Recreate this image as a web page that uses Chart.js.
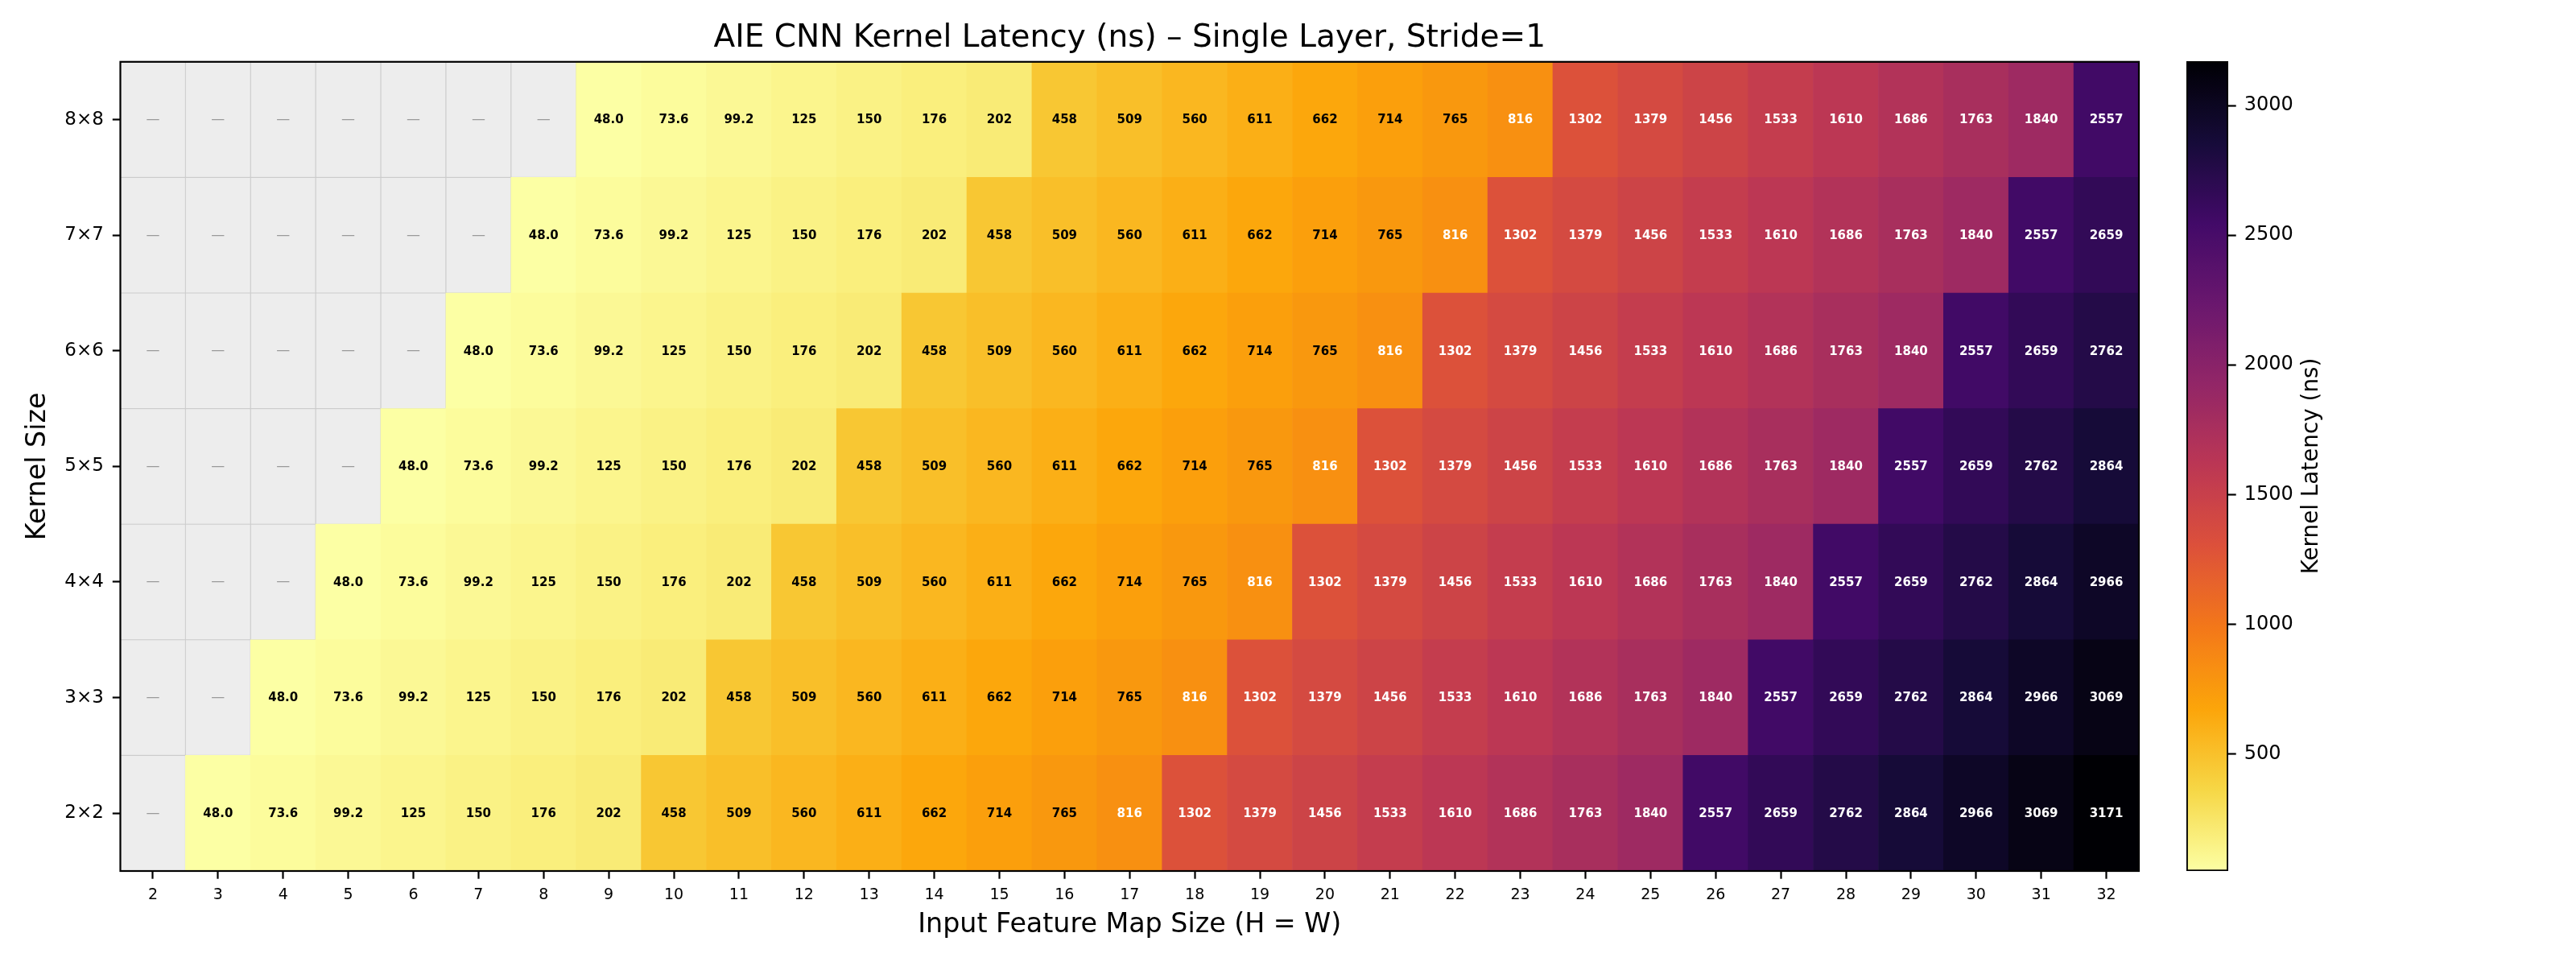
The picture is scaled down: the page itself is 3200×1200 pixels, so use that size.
<!DOCTYPE html>
<html><head><meta charset="utf-8">
<script src="https://cdn.jsdelivr.net/npm/chart.js@4.4.1/dist/chart.umd.min.js"></script>
<style>
html,body{margin:0;padding:0;background:#fff;}
#wrap{position:relative;width:3200px;height:1200px;overflow:hidden;}
#main{position:absolute;left:0;top:0;}
#cbar{position:absolute;left:2600px;top:0;}
</style></head><body>
<div id="wrap"><canvas id="main" width="3200" height="1200"></canvas><canvas id="cbar" width="600" height="1200"></canvas></div>
<script>
const TITLE = 'AIE CNN Kernel Latency (ns) – Single Layer, Stride=1';
const X_TITLE = 'Input Feature Map Size (H = W)';
const Y_TITLE = 'Kernel Size';
const CB_TITLE = 'Kernel Latency (ns)';

const inputSizes = [2,3,4,5,6,7,8,9,10,11,12,13,14,15,16,17,18,19,20,21,22,23,24,25,26,27,28,29,30,31,32];
const kernelSizes = [2,3,4,5,6,7,8];

// latency (ns) per input size (2..32); null = kernel does not fit ("—")
const lat_k2 = [null,48.0,73.6,99.2,125,150,176,202,458,509,560,611,662,714,765,816,1302,1379,1456,1533,1610,1686,1763,1840,2557,2659,2762,2864,2966,3069,3171];
const lat_k3 = [null,null,48.0,73.6,99.2,125,150,176,202,458,509,560,611,662,714,765,816,1302,1379,1456,1533,1610,1686,1763,1840,2557,2659,2762,2864,2966,3069];
const lat_k4 = [null,null,null,48.0,73.6,99.2,125,150,176,202,458,509,560,611,662,714,765,816,1302,1379,1456,1533,1610,1686,1763,1840,2557,2659,2762,2864,2966];
const lat_k5 = [null,null,null,null,48.0,73.6,99.2,125,150,176,202,458,509,560,611,662,714,765,816,1302,1379,1456,1533,1610,1686,1763,1840,2557,2659,2762,2864];
const lat_k6 = [null,null,null,null,null,48.0,73.6,99.2,125,150,176,202,458,509,560,611,662,714,765,816,1302,1379,1456,1533,1610,1686,1763,1840,2557,2659,2762];
const lat_k7 = [null,null,null,null,null,null,48.0,73.6,99.2,125,150,176,202,458,509,560,611,662,714,765,816,1302,1379,1456,1533,1610,1686,1763,1840,2557,2659];
const lat_k8 = [null,null,null,null,null,null,null,48.0,73.6,99.2,125,150,176,202,458,509,560,611,662,714,765,816,1302,1379,1456,1533,1610,1686,1763,1840,2557];

const colorbarTicks = [500,1000,1500,2000,2500,3000];

const rows = [lat_k2, lat_k3, lat_k4, lat_k5, lat_k6, lat_k7, lat_k8];
const allVals = rows.flat().filter(v => v != null);
const vmin = Math.min(...allVals), vmax = Math.max(...allVals);

const FONT = '"DejaVu Sans", sans-serif';
const INFERNO = [[0,0,4],[22,11,57],[66,10,104],[106,23,110],[147,38,103],[188,55,84],[221,81,58],[243,120,25],[252,165,10],[246,215,70],[252,255,164]];
function inferno(t){
  t = Math.max(0, Math.min(1, t));
  const p = t*10; const i = Math.min(9, Math.floor(p)); const f = p - i;
  const a = INFERNO[i], b = INFERNO[i+1];
  const c = a.map((x,j) => Math.round(x + (b[j]-x)*f));
  return `rgb(${c[0]},${c[1]},${c[2]})`;
}
function norm(v){ return (v - vmin)/(vmax - vmin); }
function cmap(v){ return inferno(1 - norm(v)); }
function fmt(v){ return v < 100 ? v.toFixed(1) : String(Math.round(v)); }

const datasets = kernelSizes.map((k, r) => ({
  label: k + '×' + k,
  data: inputSizes.map(() => [k - 0.5, k + 0.5]),
  values: rows[r],
  backgroundColor: rows[r].map(v => v == null ? '#ededed' : cmap(v)),
  borderColor: rows[r].map(v => v == null ? '#cccccc' : cmap(v)),
  borderWidth: rows[r].map(v => v == null ? 0.9 : 0),
  borderSkipped: false,
  grouped: false,
  barPercentage: 1,
  categoryPercentage: 1
}));

const cellLabels = {
  id: 'cellLabels',
  afterDatasetsDraw(chart){
    const ctx = chart.ctx;
    ctx.save();
    ctx.textAlign = 'center'; ctx.textBaseline = 'middle';
    chart.data.datasets.forEach((ds, di) => {
      const meta = chart.getDatasetMeta(di);
      meta.data.forEach((bar, i) => {
        const v = ds.values[i];
        const p = bar.getCenterPoint();
        if (v == null) {
          ctx.font = '17px ' + FONT; ctx.fillStyle = '#999999';
          ctx.fillText('—', p.x, p.y);
        } else {
          ctx.font = 'bold 15px ' + FONT;
          ctx.fillStyle = norm(v) > 0.24 ? '#ffffff' : '#000000';
          ctx.fillText(fmt(v), p.x, p.y + 1);
        }
      });
    });
    ctx.restore();
  }
};
const frame = {
  id: 'frame',
  afterDraw(chart){
    const {ctx, chartArea: a} = chart;
    ctx.save(); ctx.strokeStyle = '#000'; ctx.lineWidth = 2.2;
    ctx.strokeRect(a.left, a.top, a.right - a.left, a.bottom - a.top);
    ctx.restore();
  }
};

new Chart(document.getElementById('main'), {
  type: 'bar',
  data: { labels: inputSizes.map(String), datasets },
  options: {
    responsive: false, devicePixelRatio: 1, animation: false,
    layout: { padding: { left: 0, right: 543, top: 0, bottom: 0 } },
    plugins: {
      legend: { display: false }, tooltip: { enabled: false },
      title: { display: true, fullSize: false, text: TITLE, color: '#000', font: { family: FONT, size: 39, weight: 'normal' }, padding: { top: 24, bottom: 6 } }
    },
    scales: {
      x: {
        type: 'category', offset: true,
        grid: { display: true, drawOnChartArea: false, drawTicks: true, tickLength: 9.7, tickWidth: 2.2, tickColor: '#000', offset: false },
        border: { display: false },
        ticks: { font: { family: FONT, size: 19 }, color: '#000', padding: 9, maxRotation: 0, autoSkip: false },
        title: { display: true, text: X_TITLE, color: '#000', font: { family: FONT, size: 33.3, weight: 'normal' }, padding: { top: 0, bottom: 31 } },
        afterFit(s){ s.height = 118; }
      },
      y: {
        type: 'linear', min: 1.5, max: 8.5,
        afterBuildTicks(s){ s.ticks = kernelSizes.map(v => ({ value: v })); },
        ticks: { callback: v => v + '×' + v, font: { family: FONT, size: 23 }, color: '#000', padding: 11 },
        grid: { display: true, drawOnChartArea: false, drawTicks: true, tickLength: 9.7, tickWidth: 2.2, tickColor: '#000' },
        border: { display: false },
        title: { display: true, text: Y_TITLE, color: '#000', font: { family: FONT, size: 33.3, weight: 'normal' }, padding: { top: 27, bottom: 0 } },
        afterFit(s){ s.width = 149.5; }
      }
    }
  },
  plugins: [cellLabels, frame]
});

const cbLabel = {
  id: 'cbLabel',
  afterDraw(chart){
    const ctx = chart.ctx; const a = chart.chartArea;
    ctx.save();
    ctx.translate(272, (a.top + a.bottom) / 2);
    ctx.rotate(-Math.PI / 2);
    ctx.textAlign = 'center'; ctx.textBaseline = 'middle';
    ctx.font = '27.8px ' + FONT; ctx.fillStyle = '#000';
    ctx.fillText(CB_TITLE, 0, 0);
    ctx.restore();
  }
};

new Chart(document.getElementById('cbar'), {
  type: 'bar',
  data: { labels: [''], datasets: [{
    data: [[vmin, vmax]],
    backgroundColor(c){
      const chart = c.chart; const a = chart.chartArea;
      if (!a) return '#fff';
      const g = chart.ctx.createLinearGradient(0, a.bottom, 0, a.top);
      for (let i = 0; i <= 100; i++) g.addColorStop(i / 100, inferno(1 - i / 100));
      return g;
    },
    borderColor: '#000', borderWidth: 2.2, borderSkipped: false,
    barPercentage: 1, categoryPercentage: 1
  }]},
  options: {
    responsive: false, devicePixelRatio: 1, animation: false,
    layout: { padding: { left: 116, top: 76, bottom: 118, right: 0 } },
    plugins: { legend: { display: false }, tooltip: { enabled: false } },
    scales: {
      x: { display: false },
      y: {
        position: 'right', min: vmin, max: vmax,
        afterBuildTicks(s){ s.ticks = colorbarTicks.map(v => ({ value: v })); },
        ticks: { callback: v => String(v), font: { family: FONT, size: 24 }, color: '#000', padding: 10 },
        grid: { display: true, drawOnChartArea: false, drawTicks: true, tickLength: 9.7, tickWidth: 2.2, tickColor: '#000' },
        border: { display: false },
        afterFit(s){ s.width = 432; }
      }
    }
  },
  plugins: [cbLabel]
});
</script>
</body></html>
